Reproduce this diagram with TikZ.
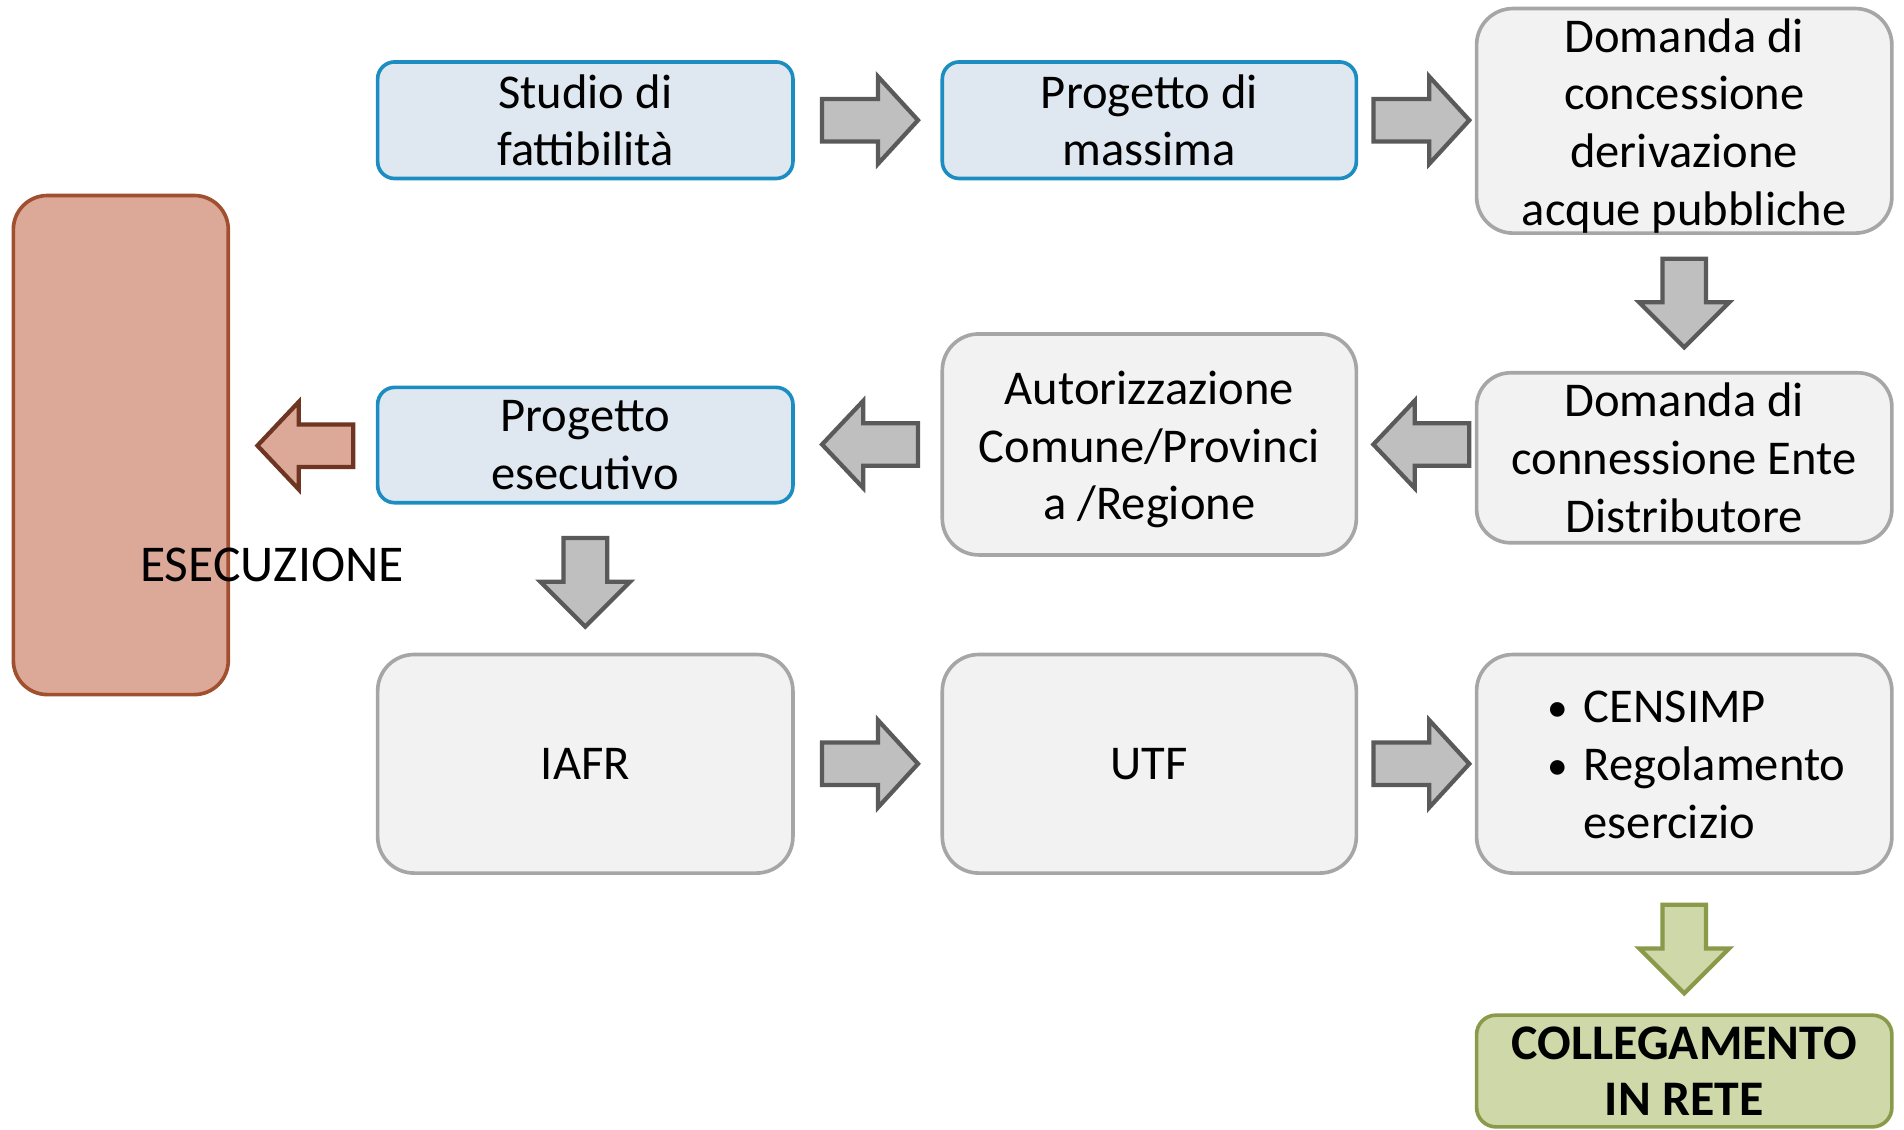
\documentclass[tikz,border=0pt]{standalone}
\usepackage{fontspec}
\setmainfont{Carlito}
\definecolor{bluebd}{HTML}{1C8DC1}
\definecolor{bluefill}{HTML}{DFE8F0}
\definecolor{greybd}{HTML}{A6A6A6}
\definecolor{greyfill}{HTML}{F2F2F2}
\definecolor{arrfill}{HTML}{BFBFBF}
\definecolor{arrbd}{HTML}{5A5A5A}
\definecolor{brownfill}{HTML}{DCA898}
\definecolor{brownbd}{HTML}{A0502F}
\definecolor{brownarrbd}{HTML}{6E3522}
\definecolor{greenfill}{HTML}{CFD8A9}
\definecolor{greenbd}{HTML}{8A9A4B}
\newcommand\myArrR[3]{% x0, cy, style
  \draw[#3] (#1,#2-17.5) -- ++(46,0) -- ++(0,-18.5) -- (#1+79,#2) -- (#1+46,#2+36) -- ++(0,-18.5) -- (#1,#2+17.5) -- cycle;}
\newcommand\myArrL[3]{% tip x, cy, style
  \draw[#3] (#1,#2) -- (#1+34,#2-36) -- ++(0,18.5) -- (#1+79,#2-17.5) -- ++(0,35) -- (#1+34,#2+17.5) -- ++(0,18.5) -- cycle;}
\newcommand\myArrD[3]{% cx, top y, style
  \draw[#3] (#1-18,#2) -- (#1+18,#2) -- (#1+18,#2+36) -- (#1+37,#2+36) -- (#1,#2+73) -- (#1-37,#2+36) -- (#1-18,#2+36) -- cycle;}
\newcommand\myBul{\makebox[30pt][l]{\raisebox{1pt}{\scalebox{0.85}{\textbullet}}}}
\newcommand\myStrut{\rule{0pt}{36pt}}
\tikzset{
  x=1pt, y=-1pt,
  base/.style={rounded corners=#1, line width=3pt, inner sep=0pt, align=center,
    font=\fontsize{40}{47.5}\selectfont},
  bluebox/.style={base=14pt, draw=bluebd, fill=bluefill},
  greybox/.style={base=30pt, draw=greybd, fill=greyfill},
  greenbox/.style={base=16pt, draw=greenbd, fill=greenfill},
  brownbox/.style={base=28pt, draw=brownbd, fill=brownfill},
  blockarr/.style={line width=3.5pt, draw=arrbd, fill=arrfill, line join=miter},
  brownarr/.style={line width=3.5pt, draw=brownarrbd, fill=brownfill, line join=miter},
  greenarr/.style={line width=3.5pt, draw=greenbd, fill=greenfill, line join=miter},
  plain/.style={inner sep=0pt, align=left, font=\fontsize{40}{47.5}\selectfont}
}
\begin{document}
\begin{tikzpicture}
\path[use as bounding box] (0,0) rectangle (1568,930);
% execution block
\node[brownbox, minimum width=177pt, minimum height=411pt] (esec) at (99.5,366.5) {};
% row 1
\node[bluebox, minimum width=342pt, minimum height=96pt] (studio) at (482,99) {Studio di\\fattibilità};
\node[bluebox, minimum width=341pt, minimum height=96pt] (massima) at (946.5,99) {Progetto di\\massima};
\node[greybox, minimum width=342pt, minimum height=181pt] (conc) at (1387,99.5) {\myStrut Domanda di\\concessione\\derivazione\\acque pubbliche};
% row 2
\node[greybox, base=28pt, draw=greybd, fill=greyfill, minimum width=342pt, minimum height=140pt] (conn) at (1387,377) {Domanda di\\connessione Ente\\Distributore};
\node[greybox, minimum width=341pt, minimum height=182pt] (aut) at (946.5,366) {\myStrut Autorizzazione\\Comune/Provinci\\a /Regione};
\node[bluebox, minimum width=342pt, minimum height=95pt] (esecut) at (482,366.5) {Progetto\\esecutivo};
% row 3
\node[greybox, minimum width=342pt, minimum height=180pt] (iafr) at (482,629) {IAFR};
\node[greybox, minimum width=341pt, minimum height=180pt] (utf) at (946.5,629) {UTF};
\node[greybox, minimum width=342pt, minimum height=180pt] (cens) at (1387,629) {};
\node[plain] (censtxt) at (1397,630) {\myBul CENSIMP\\\myBul Regolamento\\\makebox[30pt][l]{}esercizio};
% final
\node[greenbox, minimum width=342pt, minimum height=92pt, font=\fontsize{41}{46}\selectfont\bfseries] (coll) at (1387,882) {COLLEGAMENTO\\IN RETE};
% label
\node[plain, font=\fontsize{42.5}{47.5}\selectfont] (esectxt) at (224,465) {ESECUZIONE};
% arrows
\myArrR{677}{99}{blockarr}
\myArrR{1131}{99}{blockarr}
\myArrD{1387}{213}{blockarr}
\myArrL{1131}{366}{blockarr}
\myArrL{677}{366}{blockarr}
\myArrL{212}{367}{brownarr}
\myArrD{482}{443}{blockarr}
\myArrR{677}{629}{blockarr}
\myArrR{1131}{629}{blockarr}
\myArrD{1387}{745}{greenarr}
\end{tikzpicture}
\end{document}
